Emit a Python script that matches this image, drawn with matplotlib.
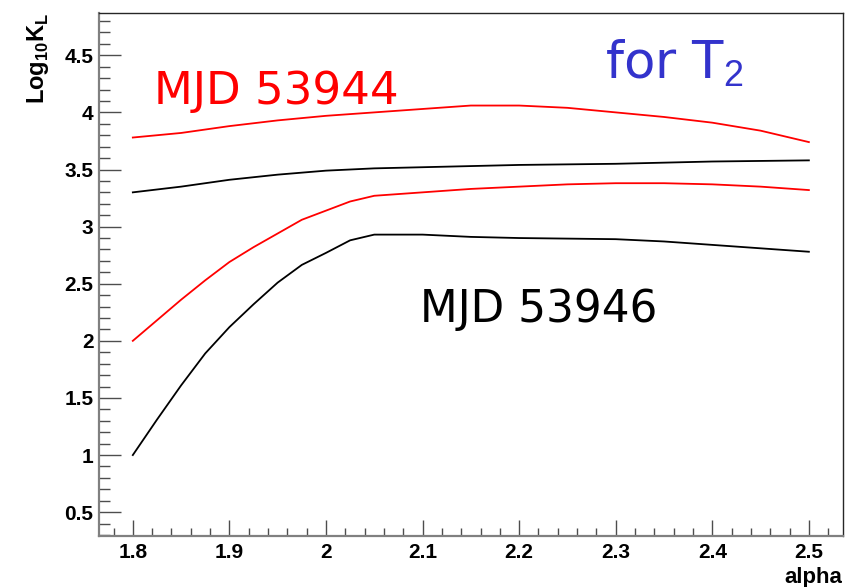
import matplotlib.pyplot as plt
from matplotlib.ticker import MultipleLocator

plt.rcParams['font.family'] = ['Liberation Sans', 'DejaVu Sans']
plt.rcParams['mathtext.fontset'] = 'custom'
plt.rcParams['mathtext.rm'] = 'Liberation Sans'
plt.rcParams['mathtext.bf'] = 'Liberation Sans:bold'

# spectral index grid for the upper edges
alpha = [1.80, 1.85, 1.90, 1.95, 2.00, 2.05, 2.10, 2.15, 2.20, 2.25, 2.30, 2.35, 2.40, 2.45, 2.50]
# finer grid for the lower edges, which rise steeply at small alpha
alpha_lo = [1.800, 1.825, 1.850, 1.875, 1.900, 1.925, 1.950, 1.975, 2.000, 2.025, 2.050,
            2.10, 2.15, 2.20, 2.25, 2.30, 2.35, 2.40, 2.45, 2.50]

# MJD 53944 band (upper / lower edge)
mjd44_hi = [3.78, 3.82, 3.88, 3.93, 3.97, 4.00, 4.03, 4.06, 4.06, 4.04, 4.00, 3.96, 3.91, 3.84, 3.74]
mjd44_lo = [2.00, 2.18, 2.36, 2.53, 2.69, 2.82, 2.94, 3.06, 3.14, 3.22, 3.27,
            3.30, 3.33, 3.35, 3.37, 3.38, 3.38, 3.37, 3.35, 3.32]

# MJD 53946 band (upper / lower edge)
mjd46_hi = [3.30, 3.35, 3.41, 3.455, 3.49, 3.51, 3.52, 3.53, 3.54, 3.545, 3.55, 3.56, 3.57, 3.575, 3.58]
mjd46_lo = [1.00, 1.31, 1.61, 1.89, 2.12, 2.32, 2.51, 2.665, 2.77, 2.88, 2.93,
            2.93, 2.91, 2.90, 2.895, 2.89, 2.87, 2.84, 2.81, 2.78]

fig = plt.figure(figsize=(8.47, 5.87), dpi=100)
ax = fig.add_axes([0.1169, 0.0874, 0.878, 0.891])

ax.plot(alpha, mjd44_hi, color='red', lw=1.3)
ax.plot(alpha_lo, mjd44_lo, color='red', lw=1.3)
ax.plot(alpha, mjd46_hi, color='black', lw=1.3)
ax.plot(alpha_lo, mjd46_lo, color='black', lw=1.3)

ax.set_xlim(1.765, 2.535)
ax.set_ylim(0.294, 4.873)

ax.xaxis.set_major_locator(MultipleLocator(0.1))
ax.xaxis.set_minor_locator(MultipleLocator(0.02))
ax.yaxis.set_major_locator(MultipleLocator(0.5))
ax.yaxis.set_minor_locator(MultipleLocator(0.1))
ax.xaxis.set_major_formatter(lambda v, p: f'{v:g}')
ax.yaxis.set_major_formatter(lambda v, p: f'{v:g}')

ax.tick_params(axis='both', which='both', direction='in', colors='0.3', labelcolor='black')
ax.tick_params(axis='x', which='major', length=11.5, width=1, pad=5)
ax.tick_params(axis='x', which='minor', length=6, width=1)
ax.tick_params(axis='y', which='major', length=16, width=1, pad=4)
ax.tick_params(axis='y', which='minor', length=8, width=1)
for lab in ax.get_xticklabels() + ax.get_yticklabels():
    lab.set_fontsize(15)
    lab.set_fontweight('bold')

for side in ['left', 'bottom']:
    ax.spines[side].set_color('0.5')
    ax.spines[side].set_linewidth(1.6)
for side in ['top', 'right']:
    ax.spines[side].set_color('0.15')
    ax.spines[side].set_linewidth(1.0)

# axis titles, ROOT style: pinned to the far ends of the axes
fig.text(38 / 847, 1 - 12 / 587, r'Log$_{\mathbf{10}}$K$_{\mathbf{L}}$', rotation=90,
         ha='center', va='top', fontsize=17, fontweight='bold')
fig.text(842 / 847, 1 - 567 / 587, 'alpha', ha='right', va='top',
         fontsize=16, fontweight='bold')

ax.text(1.8217, 4.076, 'MJD 53944', color='red', fontsize=32.5,
        family='DejaVu Sans', va='baseline')
ax.text(2.097, 2.169, 'MJD 53946', color='black', fontsize=31.5,
        family='DejaVu Sans', va='baseline')
ax.text(2.289, 4.30, r'for T$_{\mathrm{2}}$', color='#3333cc', fontsize=37,
        family='DejaVu Sans', va='baseline')

plt.savefig('out.png')
